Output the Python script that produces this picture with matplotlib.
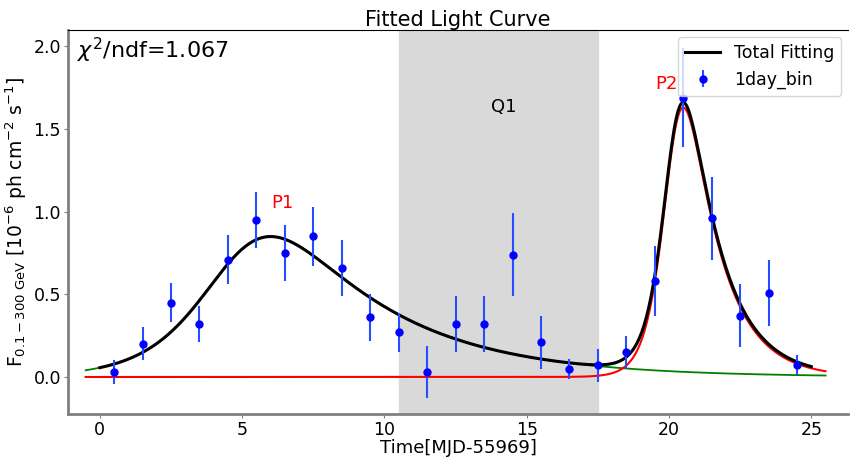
import numpy as np
import matplotlib
matplotlib.use("Agg")
import matplotlib.pyplot as plt

# 1-day binned light curve
t_bin = [0.5, 1.5, 2.5, 3.5, 4.5, 5.5, 6.5, 7.5, 8.5, 9.5, 10.5, 11.5, 12.5,
         13.5, 14.5, 15.5, 16.5, 17.5, 18.5, 19.5, 20.5, 21.5, 22.5, 23.5, 24.5]
flux = [0.03, 0.20, 0.45, 0.32, 0.71, 0.95, 0.75, 0.85, 0.66, 0.36, 0.27, 0.03, 0.32,
        0.32, 0.74, 0.21, 0.05, 0.07, 0.15, 0.58, 1.69, 0.96, 0.37, 0.51, 0.07]
flux_err = [0.07, 0.10, 0.12, 0.11, 0.15, 0.17, 0.17, 0.18, 0.17, 0.14, 0.12, 0.16, 0.17,
            0.17, 0.25, 0.16, 0.06, 0.10, 0.10, 0.21, 0.30, 0.25, 0.19, 0.20, 0.06]

# fitted flare parameters: F0, t0, rise time, decay time
p1 = [0.763, 4.93, 1.5, 4.0]
p2 = [1.464, 20.18, 0.45, 1.2]
chi2_ndf = 1.067


def flare(t, F0, t0, tr, td):
    return 2 * F0 / (np.exp((t0 - t) / tr) + np.exp((t - t0) / td))


t_comp = np.linspace(-0.5, 25.5, 600)
t_tot = np.linspace(0, 25, 600)

fig = plt.figure(figsize=(8.5, 4.58), dpi=100)
ax = fig.add_axes([0.08, 0.096, 0.918, 0.838])

ax.axvspan(10.5, 17.5, color='#d9d9d9', zorder=0)
ax.plot(t_comp, flare(t_comp, *p1), color='green', lw=1.3)
ax.plot(t_comp, flare(t_comp, *p2), color='red', lw=1.5)
ax.plot(t_tot, flare(t_tot, *p1) + flare(t_tot, *p2), color='black', lw=2.2, label='Total Fitting')
ax.errorbar(t_bin, flux, yerr=flux_err, fmt='o', color='blue', ms=5,
            ecolor=(0.15, 0.3, 1.0), elinewidth=1.5, label='1day_bin')

ax.text(0.012, 0.985, r'$\chi^2$/ndf=%.3f' % chi2_ndf, transform=ax.transAxes,
        fontsize=16, va='top', ha='left')
ax.text(14.2, 1.6, 'Q1', fontsize=13, ha='center')
ax.text(6.4, 1.02, 'P1', fontsize=13, color='red', ha='center')
ax.text(19.9, 1.74, 'P2', fontsize=13, color='red', ha='center')

ax.set_xlim(-1.12, 26.3)
ax.set_ylim(-0.224, 2.097)
ax.set_xticks([0, 5, 10, 15, 20, 25])
ax.set_yticks([0.0, 0.5, 1.0, 1.5, 2.0])
ax.tick_params(labelsize=12.5, length=3, pad=2, color='0.5')
ax.set_title('Fitted Light Curve', fontsize=15, pad=2)
ax.set_xlabel('Time[MJD-55969]', fontsize=13, labelpad=0)
ax.set_ylabel(r'F$_{0.1-300\ \rm GeV}$ [10$^{-6}$ ph cm$^{-2}$ s$^{-1}$]', fontsize=13.5, labelpad=3)

for s in ['left', 'bottom']:
    ax.spines[s].set_color('0.5')
    ax.spines[s].set_linewidth(2)
ax.spines['right'].set_visible(False)

ax.legend(loc='upper right', fontsize=12.5, borderaxespad=0.4)

fig.savefig('out.png', dpi=100)
